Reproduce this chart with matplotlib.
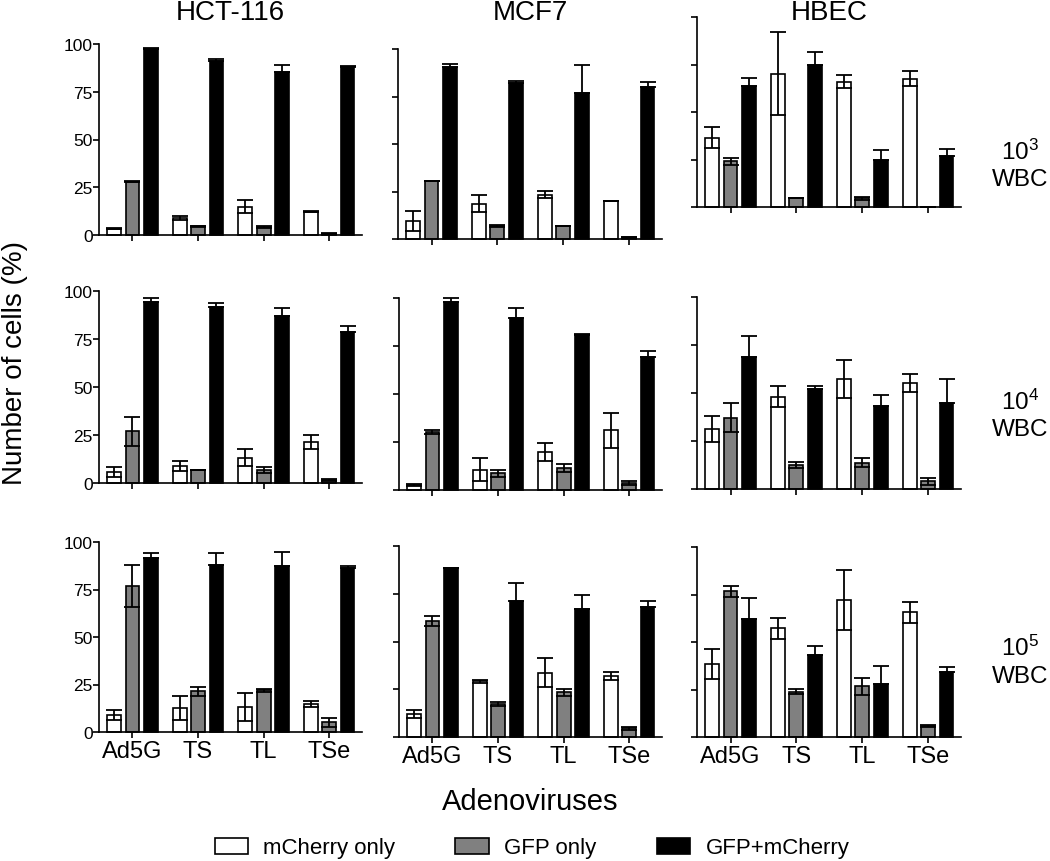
import numpy as np
import matplotlib
matplotlib.use("Agg")
import matplotlib.pyplot as plt
from matplotlib.patches import Patch

plt.rcParams['font.family'] = ['Liberation Sans', 'DejaVu Sans']
plt.rcParams['mathtext.fontset'] = 'custom'
plt.rcParams['mathtext.rm'] = 'Liberation Sans'
plt.rcParams['mathtext.default'] = 'regular'

viruses = ["Ad5G", "TS", "TL", "TSe"]
series = ["mCherry only", "GFP only", "GFP+mCherry"]
cell_lines = ["HCT-116", "MCF7", "HBEC"]
wbc_levels = ["3", "4", "5"]

# rows: mCherry only, GFP only, GFP+mCherry ; columns: Ad5G, TS, TL, TSe
hct116_1e3 = [[3.3, 9.1, 14.9, 12.2], [27.8, 4.5, 4.2, 0.7], [97.4, 91.3, 85.5, 88.1]]
hct116_1e3_err = [[0.4, 1.0, 3.3, 0.3], [0.3, 0.3, 0.5, 0.3], [0.4, 1.0, 3.7, 0.3]]
mcf7_1e3 = [[9.6, 18.6, 23.3, 20.0], [30.5, 7.0, 7.0, 0.9], [90.4, 81.9, 76.8, 80.2]]
mcf7_1e3_err = [[5.2, 4.6, 1.8, 0.0], [0.0, 0.5, 0.0, 0.3], [1.7, 1.4, 14.8, 2.3]]
hbec_1e3 = [[36.4, 70.2, 66.0, 67.6], [24.1, 4.8, 4.6, 0.0], [63.9, 74.6, 25.0, 26.8]]
hbec_1e3_err = [[5.6, 21.7, 3.5, 3.9], [1.8, 0.0, 0.7, 0.0], [3.9, 7.0, 4.9, 3.7]]

hct116_1e4 = [[5.7, 8.8, 13.2, 21.5], [27.0, 6.8, 6.8, 1.6], [94.5, 91.5, 87.0, 78.7]]
hct116_1e4_err = [[2.6, 2.5, 4.3, 3.6], [7.5, 0.2, 1.5, 0.3], [1.9, 2.3, 4.0, 3.3]]
mcf7_1e4 = [[2.4, 10.6, 19.7, 31.0], [30.3, 8.7, 11.5, 3.5], [97.7, 89.5, 80.7, 69.4]]
mcf7_1e4_err = [[0.5, 5.9, 4.8, 9.0], [1.2, 1.9, 2.2, 1.0], [2.3, 5.3, 0.5, 2.9]]
hbec_1e4 = [[31.3, 48.1, 57.3, 55.4], [37.2, 12.6, 13.8, 4.0], [69.0, 51.9, 43.3, 44.8]]
hbec_1e4_err = [[6.9, 5.5, 10.0, 4.7], [7.6, 1.7, 2.6, 1.7], [10.7, 1.6, 5.7, 12.3]]

hct116_1e5 = [[8.8, 12.6, 13.2, 14.6], [76.7, 21.4, 21.9, 5.1], [91.6, 88.1, 87.4, 86.1]]
hct116_1e5_err = [[2.6, 6.2, 7.4, 1.6], [11.0, 2.5, 0.6, 2.3], [2.6, 5.9, 7.2, 1.3]]
mcf7_1e5 = [[11.9, 29.1, 33.7, 31.9], [60.7, 17.3, 23.4, 4.5], [88.5, 71.2, 66.8, 68.2]]
mcf7_1e5_err = [[2.0, 0.6, 7.5, 2.1], [2.4, 1.2, 1.9, 0.6], [0.0, 9.6, 7.5, 3.0]]
hbec_1e5 = [[38.3, 57.2, 72.2, 65.6], [76.7, 23.8, 26.7, 5.8], [62.1, 43.0, 27.8, 34.3]]
hbec_1e5_err = [[7.9, 5.4, 15.9, 5.4], [3.0, 1.4, 4.6, 0.3], [11.3, 5.1, 9.6, 2.4]]

panels = [[(hct116_1e3, hct116_1e3_err), (mcf7_1e3, mcf7_1e3_err), (hbec_1e3, hbec_1e3_err)],
          [(hct116_1e4, hct116_1e4_err), (mcf7_1e4, mcf7_1e4_err), (hbec_1e4, hbec_1e4_err)],
          [(hct116_1e5, hct116_1e5_err), (mcf7_1e5, mcf7_1e5_err), (hbec_1e5, hbec_1e5_err)]]

colors = ["white", "#808080", "black"]

W, H = 1050, 862
fig = plt.figure(figsize=(W / 100, H / 100), dpi=100)

# panel boxes in pixels: left, right, top (y=100), bottom (y=0)
boxes = [[(99, 362, 45, 236), (398, 662, 50, 240), (697, 961, 18, 208)],
         [(99, 362, 292, 484), (399, 662, 299, 491), (697, 961, 298, 490)],
         [(99, 362, 543, 733), (399, 662, 547, 738), (697, 961, 548, 738)]]

x = np.arange(len(viruses))
offsets = [-0.28, 0.0, 0.28]
width = 0.21
lw = 1.2

for r in range(3):
    for c in range(3):
        l, rt, t, b = boxes[r][c]
        ax = fig.add_axes([l / W, 1 - b / H, (rt - l) / W, (b - t) / H])
        means, errs = panels[r][c]
        for k in range(3):
            ax.bar(x + offsets[k], means[k], width, color=colors[k], edgecolor="black",
                   linewidth=lw, zorder=2, clip_on=False)
            if k == 2:
                yerr = [np.zeros(len(viruses)), errs[k]]
            else:
                yerr = errs[k]
            ax.errorbar(x + offsets[k], means[k], yerr=yerr, fmt="none", ecolor="black",
                        elinewidth=1.3, capsize=6, capthick=1.3, zorder=3, clip_on=False)
        ax.set_xlim(-0.51, 3.5)
        ax.set_ylim(0, 100)
        ax.set_yticks([0, 25, 50, 75, 100])
        ax.set_xticks(x)
        for s in ["top", "right"]:
            ax.spines[s].set_visible(False)
        for s in ["left", "bottom"]:
            ax.spines[s].set_linewidth(lw)
        ax.tick_params(direction="out", length=4, width=lw, colors="black")
        ax.tick_params(axis="y", labelsize=12.5, pad=0.5)
        ax.tick_params(axis="x", labelsize=17, pad=2)
        if c != 0:
            ax.set_yticklabels([])
        if r == 2:
            ax.set_xticklabels(viruses)
        else:
            ax.set_xticklabels([])
        if r == 0:
            fig.text((l + rt) / 2 / W, 1 - 13 / H, cell_lines[c], ha="center", va="center", fontsize=20)

# right-hand WBC labels
label_y = [(152, 180), (402, 430), (648, 677)]
for i, (y1, y2) in enumerate(label_y):
    fig.text(1020 / W, 1 - y1 / H, "10$^{%s}$" % wbc_levels[i], ha="center", va="center", fontsize=17.5)
    fig.text(1020 / W, 1 - y2 / H, "WBC", ha="center", va="center", fontsize=17.5)

fig.text(15 / W, 1 - 363 / H, "Number of cells (%)", rotation=90, ha="center", va="center", fontsize=20)
fig.text(530 / W, 1 - 802 / H, "Adenoviruses", ha="center", va="center", fontsize=21)

handles = [Patch(facecolor=colors[k], edgecolor="black", linewidth=lw) for k in range(3)]
fig.legend(handles, series, loc="center", bbox_to_anchor=(532 / W, 1 - 849 / H), ncol=3,
           frameon=False, fontsize=16, handlelength=1.5, handleheight=0.7,
           handletextpad=0.7, columnspacing=2.7)

fig.savefig("out.png", dpi=100)
